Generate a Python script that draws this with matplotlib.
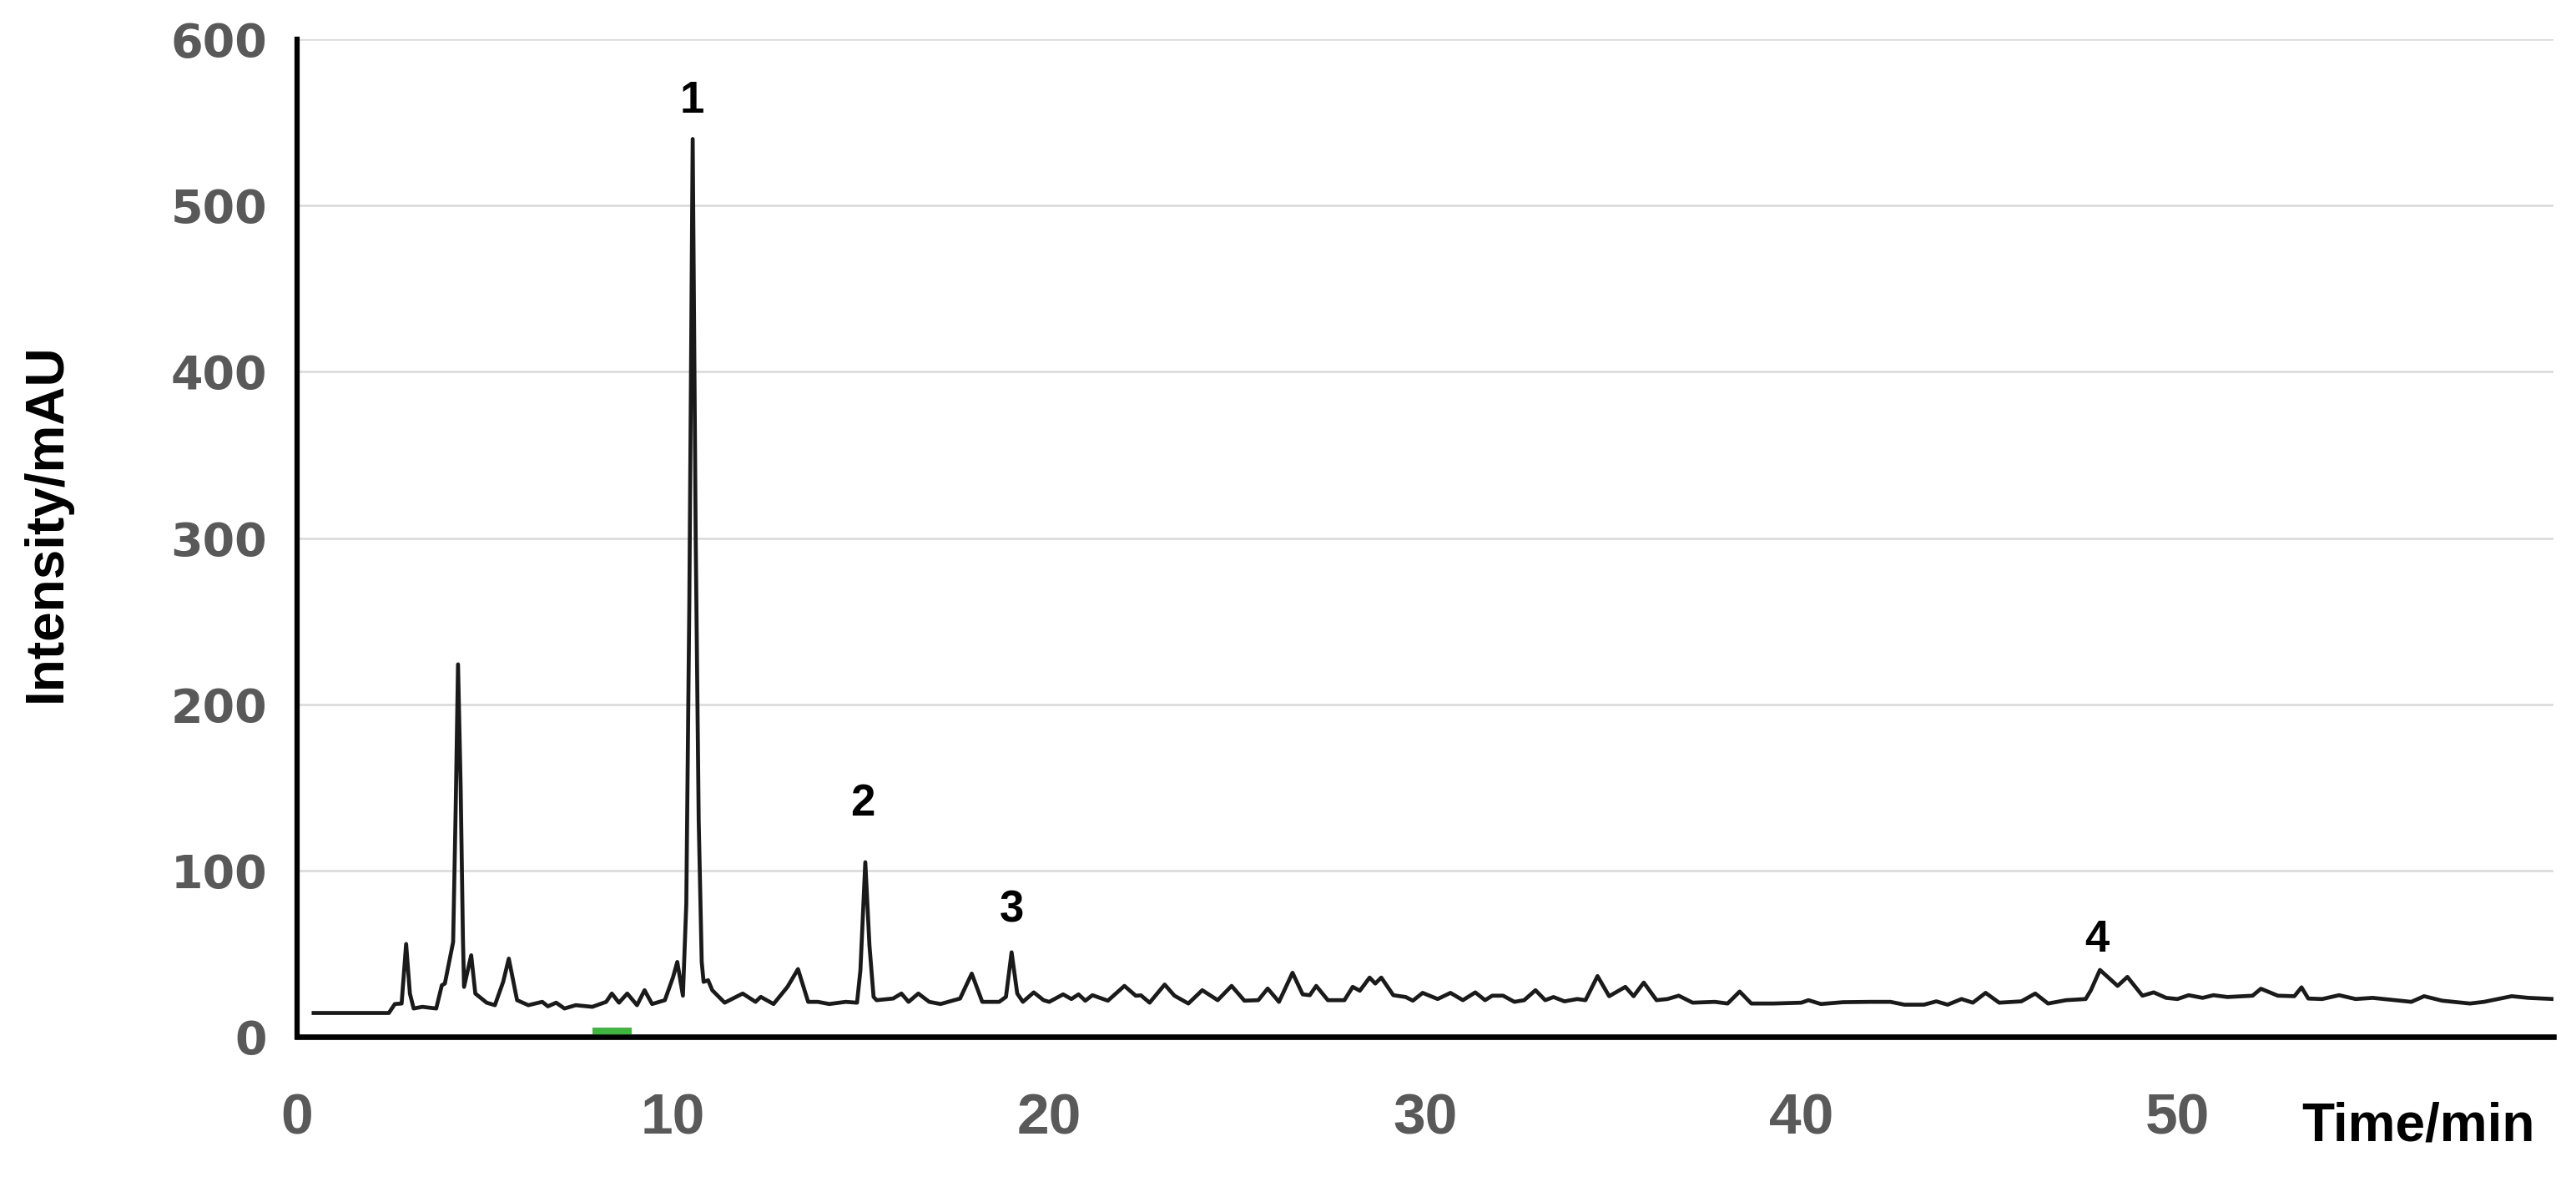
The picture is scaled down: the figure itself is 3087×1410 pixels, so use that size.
import matplotlib
matplotlib.use("Agg")
import matplotlib.pyplot as plt

# chromatogram trace (time in min, intensity in mAU)
time_min = [
    0.44, 2.44, 2.6, 2.78, 2.9, 3.0, 3.1, 3.33, 3.7, 3.85, 3.93, 4.15, 4.22, 4.28,
    4.35, 4.41, 4.44, 4.63, 4.74, 5.04, 5.26, 5.48, 5.63, 5.85, 6.15, 6.52, 6.67,
    6.89, 7.11, 7.41, 7.85, 8.22, 8.37, 8.56, 8.78, 9.04, 9.24, 9.44, 9.78, 10.0,
    10.11, 10.26, 10.35, 10.43, 10.52, 10.6, 10.68, 10.76, 10.81, 10.93, 11.04,
    11.37, 11.85, 12.19, 12.33, 12.67, 13.04, 13.32, 13.59, 13.85, 14.15, 14.59,
    14.89, 14.98, 15.11, 15.22, 15.33, 15.41, 15.85, 16.07, 16.26, 16.52, 16.81,
    17.11, 17.63, 17.94, 18.22, 18.67, 18.85, 19.0, 19.15, 19.3, 19.59, 19.85,
    20.0, 20.37, 20.59, 20.78, 20.96, 21.15, 21.56, 22.0, 22.3, 22.44, 22.67,
    23.07, 23.33, 23.7, 24.07, 24.48, 24.85, 25.19, 25.56, 25.81, 26.11, 26.47,
    26.74, 26.93, 27.1, 27.41, 27.85, 28.07, 28.26, 28.52, 28.67, 28.83, 29.15,
    29.48, 29.67, 29.93, 30.33, 30.67, 31.0, 31.33, 31.59, 31.78, 32.07, 32.37,
    32.63, 32.93, 33.19, 33.41, 33.7, 34.04, 34.26, 34.58, 34.89, 35.32, 35.54,
    35.81, 36.15, 36.44, 36.74, 37.11, 37.7, 38.04, 38.36, 38.67, 39.26, 40.0,
    40.19, 40.52, 41.11, 41.85, 42.37, 42.74, 43.26, 43.59, 43.89, 44.26, 44.56,
    44.9, 45.26, 45.85, 46.22, 46.56, 47.04, 47.56, 47.7, 47.94, 48.41, 48.67,
    49.07, 49.37, 49.7, 50.0, 50.3, 50.67, 50.96, 51.33, 52.0, 52.22, 52.67,
    53.11, 53.3, 53.48, 53.85, 54.3, 54.74, 55.19, 56.22, 56.56, 57.04, 57.78,
    58.15, 58.89, 59.33, 60.0,
]
intensity = [
    14.3, 14.3, 19.7, 20, 55.8, 26, 17, 18, 17, 31, 32, 57, 140, 224,
    150, 60, 30, 49, 26, 20.5, 19, 33, 47, 22, 19, 21, 18.3,
    20.5, 17, 19, 18, 21, 26, 20.5, 26, 19, 28, 19.7, 22, 36,
    45, 24.7, 80, 260, 540, 300, 130, 45, 33, 34, 28,
    20.5, 26, 21, 24, 19.7, 30, 40.7, 21, 21, 19.7, 21,
    20.5, 40, 105, 55, 24, 22, 23, 26, 21, 26, 21,
    19.7, 23, 38, 21, 21, 24, 50.8, 26, 21, 26.7, 22,
    21, 25.5, 22.7, 25.5, 21.7, 25, 21.7, 30.6, 24.7, 24.9, 20.5,
    31.4, 24.7, 20, 28, 22, 30.6, 21.7, 22, 29, 21, 38.5,
    25.5, 25, 30.6, 22, 22, 30, 27.7, 35.6, 32, 35.6, 25,
    23.9, 21.7, 26.4, 22.7, 26.4, 22, 26.7, 22, 24.7, 24.7, 21,
    22, 28, 22, 23.9, 21.3, 22.7, 22, 36.5, 24.4, 30, 24.4,
    32.6, 22, 22.7, 24.7, 20.5, 21, 20, 27.2, 20, 20, 20.5,
    22, 19.7, 20.8, 21, 21, 19.3, 19.3, 21.3, 19.3, 22.7, 20.5,
    26.4, 20.5, 21.3, 26, 20, 22, 22.7, 28, 40.2, 30.6, 36,
    24.7, 26.7, 23.4, 22.7, 25, 23.4, 25, 23.9, 24.7, 28.9, 24.7,
    24.4, 29.7, 23, 22.7, 25, 22.7, 23.4, 21, 24.4, 21.7, 20,
    21, 24.4, 23.4, 22.7,
]

# numbered peak labels
peak_labels = ["1", "2", "3", "4"]
label_time = [10.5, 15.05, 19.0, 47.85]
label_height = [563, 140, 76, 58]

# green marker on the time axis
mark_start, mark_end = 7.85, 8.9
mark_low, mark_high = 1.4, 5.7

yticks = [0, 100, 200, 300, 400, 500, 600]
xticks = [0, 10, 20, 30, 40, 50]

fig = plt.figure(figsize=(30.87, 14.10), dpi=100)
ax = fig.add_axes([356 / 3087, 1 - 1242 / 1410, (3060 - 356) / 3087, (1242 - 47) / 1410])

ax.yaxis.grid(True, color="#d9d9d9", linewidth=1.8)
ax.set_axisbelow(True)

ax.plot(time_min, intensity, color="#1a1a1a", linewidth=3.4, solid_joinstyle="round")
ax.bar((mark_start + mark_end) / 2, mark_high - mark_low, bottom=mark_low,
       width=mark_end - mark_start, color="#3cb83c", zorder=3)

for lab, tx, ty in zip(peak_labels, label_time, label_height):
    ax.text(tx, ty, lab, ha="center", va="center", fontsize=38,
            fontweight="bold", family="Liberation Sans", color="black")

ax.set_xlim(0, 60)
ax.set_ylim(0, 600)
ax.set_xticks(xticks)
ax.set_yticks(yticks)
ax.tick_params(axis="both", length=0)
ax.tick_params(axis="y", pad=26)
ax.tick_params(axis="x", pad=48)
for t in ax.get_yticklabels():
    t.set_fontsize(40)
    t.set_fontweight("bold")
    t.set_family("DejaVu Sans")
    t.set_color("#595959")
for t in ax.get_xticklabels():
    t.set_fontsize(50)
    t.set_fontweight("bold")
    t.set_family("Liberation Sans")
    t.set_color("#595959")

for side in ["top", "right"]:
    ax.spines[side].set_visible(False)
ax.spines["left"].set_linewidth(4.5)
ax.spines["bottom"].set_linewidth(4.8)

ax.set_xlabel("Time/min", fontsize=46, fontweight="bold", family="Liberation Sans")
ax.xaxis.label.set_va("center")
ax.xaxis.set_label_coords(56.4 / 60, (1242 - 1350) / 1195)

fig.text(56 / 3087, 1 - 626 / 1410, "Intensity/mAU", rotation=90, ha="center",
         va="center", fontsize=46, fontweight="bold", family="Liberation Sans")

fig.savefig("out.png", dpi=100)
